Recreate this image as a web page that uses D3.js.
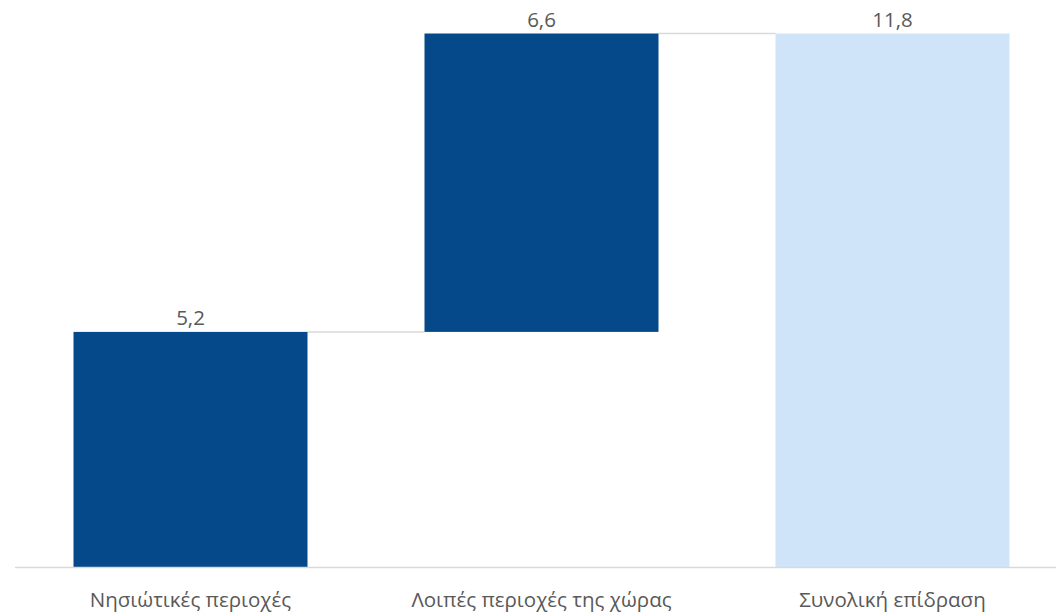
<!DOCTYPE html>
<html>
<head>
<meta charset="utf-8">
<script src="https://cdn.jsdelivr.net/npm/d3@7"></script>
<style>
  body { margin: 0; background: #fff; }
  text { font-family: "Open Sans", "Noto Sans", sans-serif; fill: #595959; }
</style>
</head>
<body>
<svg id="chart" width="1056" height="614"></svg>
<script>
const categories = ["Νησιώτικές περιοχές", "Λοιπές περιοχές της χώρας", "Συνολική επίδραση"];
const values = [5.2, 6.6, 11.8];
const isTotal = [false, false, true];

const width = 1056;
const height = 614;
const svg = d3.select("#chart");

// waterfall start/end for every bar
let running = 0;
const bars = categories.map((c, i) => {
  let start, end;
  if (isTotal[i]) {
    start = 0;
    end = values[i];
    running = values[i];
  } else {
    start = running;
    end = running + values[i];
    running = end;
  }
  return { name: c, value: values[i], start, end, total: isTotal[i] };
});

const x = d3.scaleBand()
  .domain(categories)
  .range([15, 1068])
  .paddingInner(1 / 3)
  .paddingOuter(1 / 6);

const y = d3.scaleLinear()
  .domain([0, 11.8])
  .range([567, 33.5]);

// connectors
svg.append("g")
  .selectAll("line")
  .data(bars.slice(0, -1))
  .join("line")
  .attr("x1", (d) => x(d.name) + x.bandwidth())
  .attr("x2", (d, i) => x(bars[i + 1].name))
  .attr("y1", (d) => y(d.end))
  .attr("y2", (d) => y(d.end))
  .attr("stroke", "#d9d9d9")
  .attr("stroke-width", 1.5);

svg.append("g")
  .selectAll("rect")
  .data(bars)
  .join("rect")
  .attr("x", (d) => x(d.name))
  .attr("width", x.bandwidth())
  .attr("y", (d) => y(d.end))
  .attr("height", (d) => y(d.start) - y(d.end))
  .attr("fill", (d) => (d.total ? "#cfe3f9" : "#05498a"));

// value labels
svg.append("g")
  .selectAll("text")
  .data(bars)
  .join("text")
  .attr("x", (d) => x(d.name) + x.bandwidth() / 2)
  .attr("y", (d) => y(d.end) - 7)
  .attr("text-anchor", "middle")
  .attr("font-size", 20.5)
  .text((d) => d3.format(".1f")(d.value).replace(".", ","));

// x axis
svg.append("line")
  .attr("x1", 15)
  .attr("x2", width)
  .attr("y1", y(0) + 0.5)
  .attr("y2", y(0) + 0.5)
  .attr("stroke", "#d9d9d9")
  .attr("stroke-width", 1.5);

svg.append("g")
  .selectAll("text")
  .data(categories)
  .join("text")
  .attr("x", (d) => x(d) + x.bandwidth() / 2)
  .attr("y", 607)
  .attr("text-anchor", "middle")
  .attr("font-size", 20.5)
  .text((d) => d);
</script>
</body>
</html>
